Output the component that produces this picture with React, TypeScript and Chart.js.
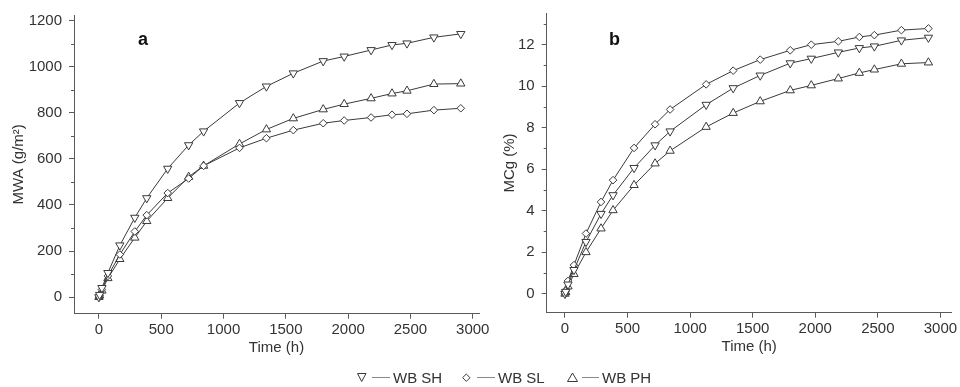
import React, { useEffect, useRef } from 'react';
import { Chart, registerables } from 'chart.js';

Chart.register(...registerables);

// ---------- data ----------
const timeH = [0, 6, 24, 72, 168, 288, 384, 552, 720, 840, 1128, 1344, 1560, 1800, 1968, 2184, 2352, 2472, 2688, 2904];

const mwaSH = [0, 10, 40, 105, 225, 345, 430, 558, 660, 720, 843, 915, 972, 1025, 1045, 1073, 1095, 1102, 1128, 1143];
const mwaSL = [0, 8, 33, 92, 185, 285, 356, 452, 515, 570, 648, 690, 725, 755, 767, 780, 792, 796, 812, 820];
const mwaPH = [0, 7, 28, 82, 165, 258, 330, 430, 522, 570, 665, 728, 776, 815, 838, 863, 884, 896, 925, 927];

const mcgSH = [0, 0.1, 0.45, 1.15, 2.5, 3.85, 4.75, 6.06, 7.15, 7.82, 9.1, 9.9, 10.51, 11.1, 11.32, 11.62, 11.83, 11.91, 12.2, 12.33];
const mcgSL = [0, 0.15, 0.62, 1.38, 2.9, 4.42, 5.47, 7.02, 8.16, 8.87, 10.08, 10.74, 11.27, 11.72, 11.99, 12.15, 12.36, 12.45, 12.69, 12.77];
const mcgPH = [0, 0.08, 0.35, 0.95, 2.0, 3.14, 4.02, 5.23, 6.27, 6.88, 8.03, 8.7, 9.26, 9.79, 10.03, 10.36, 10.63, 10.79, 11.07, 11.13];

const seriesLabels = ['WB SH', 'WB SL', 'WB PH'];
const timeTicks = [0, 500, 1000, 1500, 2000, 2500, 3000];
const mwaTicks = [0, 200, 400, 600, 800, 1000, 1200];
const mwaMinorTicks = [100, 300, 500, 700, 900, 1100];
const mcgTicks = [0, 2, 4, 6, 8, 10, 12];
const mcgMinorTicks = [1, 3, 5, 7, 9, 11, 13];

// ---------- styles ----------
const FONT = "'Liberation Sans', Arial, Helvetica, sans-serif";
const AXIS = '#5a5a5a';
const INK = '#3a3a3a';
const TEXT = '#333333';
const H = 387;

const minorTicksPlugin = {
  id: 'minorTicks',
  afterDraw(chart: any, _args: any, opts: any) {
    const scale = chart.scales.y;
    if (!scale || !opts || !opts.values) return;
    const ctx = chart.ctx;
    ctx.save();
    ctx.strokeStyle = AXIS;
    ctx.lineWidth = 1;
    ctx.beginPath();
    for (const v of opts.values) {
      const py = Math.round(scale.getPixelForValue(v)) + 0.5;
      ctx.moveTo(chart.chartArea.left - opts.len, py);
      ctx.lineTo(chart.chartArea.left, py);
    }
    ctx.stroke();
    ctx.restore();
  },
};

const panelLabelPlugin = {
  id: 'panelLabel',
  afterDraw(chart: any, _args: any, opts: any) {
    if (!opts || !opts.text) return;
    const ctx = chart.ctx;
    ctx.save();
    ctx.font = `bold 18px ${FONT}`;
    ctx.fillStyle = '#111';
    ctx.textBaseline = 'alphabetic';
    ctx.textAlign = 'left';
    ctx.fillText(opts.text, opts.x, opts.y);
    ctx.restore();
  },
};

type PanelProps = {
  left: number;
  width: number;
  area: { left: number; right: number; top: number; bottom: number };
  xMin: number;
  xMax: number;
  yMin: number;
  yMax: number;
  yTicks: number[];
  yMinor: number[];
  yTitle: string;
  yTitlePad: number;
  series: number[][];
  letter: string;
  letterX: number;
};

function Panel(p: PanelProps) {
  const ref = useRef<HTMLCanvasElement>(null);
  useEffect(() => {
    const xH = 45;
    const font = { family: FONT, size: 15 };
    const styles = [
      { pointStyle: 'triangle', rotation: 180, radius: 4.8 },
      { pointStyle: 'rectRot', rotation: 0, radius: 3.8 },
      { pointStyle: 'triangle', rotation: 0, radius: 4.8 },
    ];
    const plain = (v: any) => String(v);
    const chart = new Chart(ref.current as HTMLCanvasElement, {
      type: 'line',
      data: {
        datasets: p.series.map((vals, i) => ({
          label: seriesLabels[i],
          data: timeH.map((t, k) => ({ x: t, y: vals[k] })),
          borderColor: INK,
          borderWidth: 1,
          tension: 0,
          fill: false,
          pointStyle: styles[i].pointStyle as any,
          pointRotation: styles[i].rotation,
          pointRadius: styles[i].radius,
          pointBorderWidth: 1,
          pointBorderColor: INK,
          pointBackgroundColor: '#ffffff',
        })),
      },
      options: {
        animation: false,
        responsive: false,
        maintainAspectRatio: false,
        layout: {
          padding: {
            left: 0,
            top: p.area.top,
            right: p.width - p.area.right,
            bottom: H - p.area.bottom - xH,
          },
        },
        plugins: {
          legend: { display: false },
          tooltip: { enabled: false },
          minorTicks: { values: p.yMinor, len: 3 },
          panelLabel: { text: p.letter, x: p.letterX, y: 45 },
        } as any,
        scales: {
          x: {
            type: 'linear',
            min: p.xMin,
            max: p.xMax,
            afterBuildTicks: (s: any) => {
              s.ticks = timeTicks.map((v) => ({ value: v }));
            },
            afterFit: (s: any) => {
              s.height = xH;
              s.paddingLeft = 0;
              s.paddingRight = 0;
            },
            grid: { drawOnChartArea: false, tickLength: 5, tickColor: AXIS, color: AXIS },
            border: { display: true, color: AXIS, width: 1 },
            ticks: { font, color: TEXT, padding: 2, maxRotation: 0, autoSkip: false, callback: plain },
            title: {
              display: true,
              text: 'Time (h)',
              font,
              color: TEXT,
              padding: { top: 0, bottom: 2 },
            },
          },
          y: {
            type: 'linear',
            min: p.yMin,
            max: p.yMax,
            afterBuildTicks: (s: any) => {
              s.ticks = p.yTicks.map((v) => ({ value: v }));
            },
            afterFit: (s: any) => {
              s.width = p.area.left;
              s.paddingTop = 0;
              s.paddingBottom = 0;
            },
            grid: { drawOnChartArea: false, tickLength: 5, tickColor: AXIS, color: AXIS },
            border: { display: true, color: AXIS, width: 1 },
            ticks: { font, color: TEXT, padding: 7, autoSkip: false, callback: plain },
            title: {
              display: true,
              text: p.yTitle,
              font,
              color: TEXT,
              padding: { top: p.yTitlePad, bottom: 0 },
            },
          },
        },
      },
      plugins: [minorTicksPlugin, panelLabelPlugin],
    });
    return () => chart.destroy();
  }, []);
  return (
    <canvas
      ref={ref}
      width={p.width}
      height={H}
      style={{ position: 'absolute', left: p.left, top: 0, width: p.width, height: H }}
    />
  );
}

function Legend() {
  const lineColor = '#8a8a8a';
  const mk = INK;
  const ts = { fontFamily: FONT, fontSize: 15, fill: TEXT } as any;
  return (
    <svg
      width={960}
      height={H}
      style={{ position: 'absolute', left: 0, top: 0, pointerEvents: 'none' }}
    >
      <polygon points="357.5,373.5 366,373.5 361.7,381.5" fill="#fff" stroke={mk} strokeWidth={1} />
      <line x1={372} y1={377.5} x2={390} y2={377.5} stroke={lineColor} strokeWidth={1} />
      <text x={393} y={382.7} style={ts}>{seriesLabels[0]}</text>

      <polygon points="466.3,374 470,377.7 466.3,381.4 462.6,377.7" fill="#fff" stroke={mk} strokeWidth={1} />
      <line x1={477} y1={377.5} x2={495} y2={377.5} stroke={lineColor} strokeWidth={1} />
      <text x={498} y={382.7} style={ts}>{seriesLabels[1]}</text>

      <polygon points="567.5,381.5 577.5,381.5 572.5,373" fill="#fff" stroke={mk} strokeWidth={1} />
      <line x1={582} y1={377.5} x2={599} y2={377.5} stroke={lineColor} strokeWidth={1} />
      <text x={602} y={382.7} style={ts}>{seriesLabels[2]}</text>
    </svg>
  );
}

export default function App() {
  return (
    <div
      style={{
        position: 'fixed',
        left: 0,
        top: 0,
        width: 960,
        height: H,
        background: '#ffffff',
        overflow: 'hidden',
      }}
    >
      <Panel
        left={0}
        width={492}
        area={{ left: 74, right: 479, top: 15, bottom: 313.7 }}
        xMin={-200}
        xMax={3050}
        yMin={-72}
        yMax={1225}
        yTicks={mwaTicks}
        yMinor={mwaMinorTicks}
        yTitle="MWA (g/m²)"
        yTitlePad={10}
        series={[mwaSH, mwaSL, mwaPH]}
        letter="a"
        letterX={138}
      />
      <Panel
        left={480}
        width={480}
        area={{ left: 66.7, right: 471.7, top: 13.3, bottom: 312.7 }}
        xMin={-146}
        xMax={3090}
        yMin={-0.91}
        yMax={13.5}
        yTicks={mcgTicks}
        yMinor={mcgMinorTicks}
        yTitle="MCg (%)"
        yTitlePad={20.7}
        series={[mcgSH, mcgSL, mcgPH]}
        letter="b"
        letterX={129}
      />
      <Legend />
    </div>
  );
}
